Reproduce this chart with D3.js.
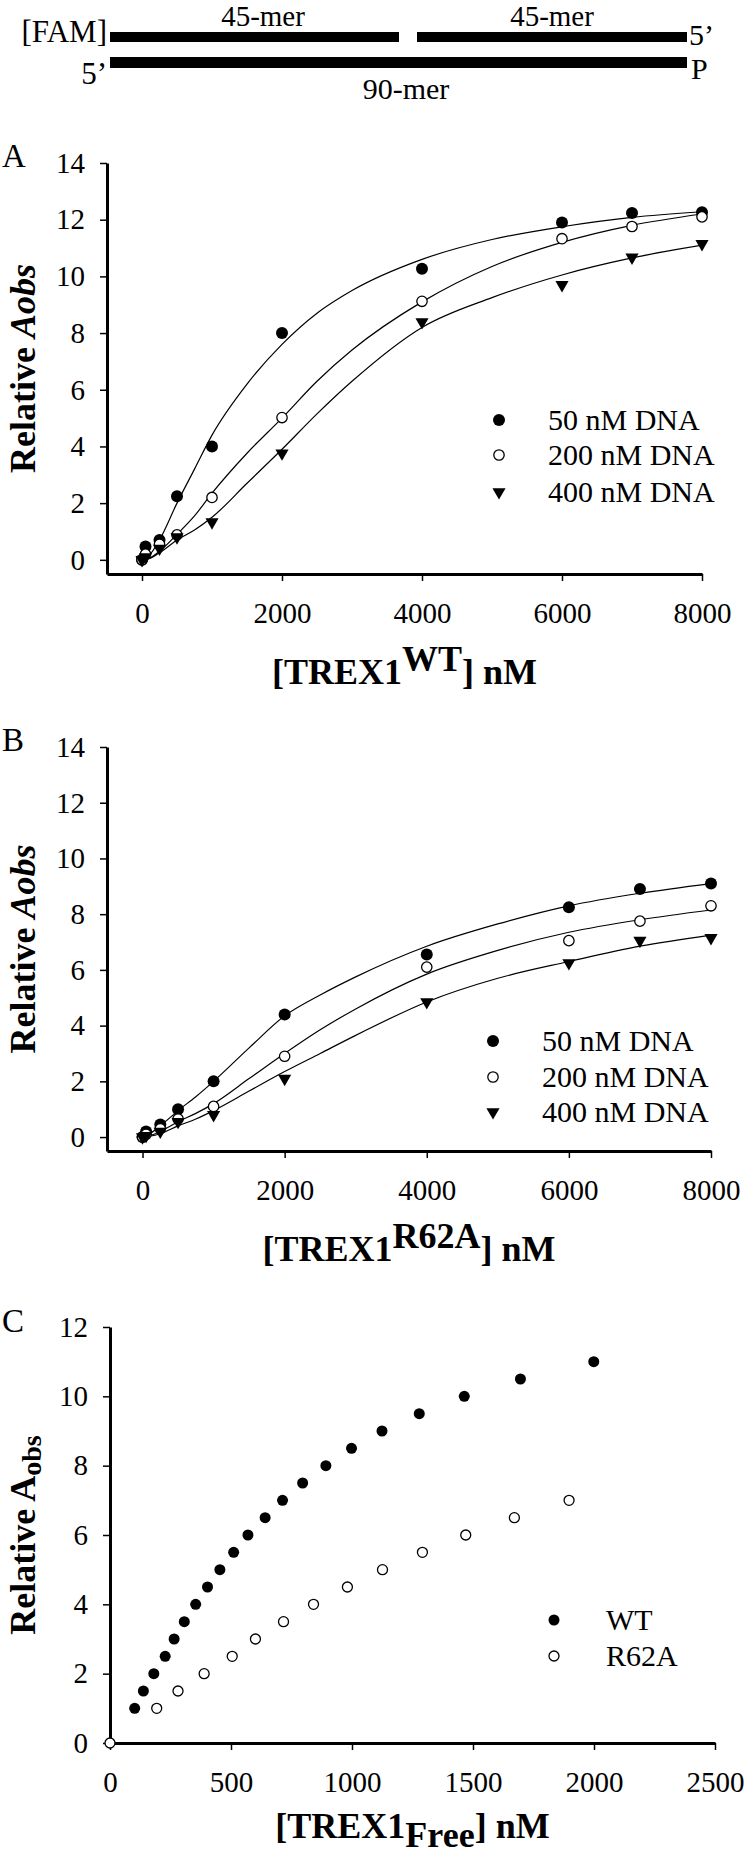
<!DOCTYPE html>
<html>
<head>
<meta charset="utf-8">
<script src="https://cdn.jsdelivr.net/npm/d3@7"></script>
<style>
  body { margin: 0; background: #fff; }
  text { font-family: "Liberation Serif", "Times New Roman", serif; fill: #000; }
</style>
</head>
<body>
<div id="chart"></div>
<script>
// panel A / B concentrations (nM)
var conc = [0, 50, 250, 500, 1000, 2000, 4000, 6000, 7000, 8000];
var a50 = [0, 0.47, 0.7, 2.24, 4.0, 8.0, 10.27, 11.9, 12.24, 12.26];
var a200 = [0, 0.2, 0.55, 0.88, 2.2, 5.02, 9.12, 11.33, 11.76, 12.1];
var a400 = [0, 0.1, 0.4, 0.8, 1.33, 3.76, 8.39, 9.7, 10.67, 11.15];
var b50 = [0, 0.2, 0.45, 1.0, 2.0, 4.4, 6.55, 8.25, 8.9, 9.1];
var b200 = [0, 0.1, 0.3, 0.65, 1.1, 2.9, 6.1, 7.05, 7.75, 8.3];
var b400 = [0, 0.05, 0.2, 0.55, 0.8, 2.1, 4.85, 6.25, 7.05, 7.15];

// fitted lines
var fitConc = [0, 100, 250, 500, 750, 1000, 1500, 2000, 2500, 3000, 4000, 5000, 6000, 7000, 8000];
var fitA50 = [0, 0.15, 0.7, 2.0, 3.2, 4.4, 6.2, 7.6, 8.7, 9.5, 10.6, 11.3, 11.75, 12.08, 12.28];
var fitA200 = [0, 0.05, 0.3, 0.9, 1.55, 2.35, 3.76, 5.0, 6.3, 7.4, 9.1, 10.35, 11.2, 11.8, 12.2];
var fitA400 = [0, 0.04, 0.25, 0.7, 1.05, 1.5, 2.7, 3.9, 5.15, 6.3, 8.2, 9.25, 10.05, 10.65, 11.1];
var fitB50 = [0, 0.12, 0.4, 0.95, 1.45, 2.0, 3.2, 4.35, 5.1, 5.75, 6.85, 7.65, 8.3, 8.75, 9.1];
var fitB200 = [0, 0.05, 0.2, 0.55, 0.85, 1.2, 2.1, 3.0, 3.85, 4.6, 5.85, 6.7, 7.35, 7.8, 8.15];
var fitB400 = [0, 0.03, 0.12, 0.4, 0.65, 0.95, 1.65, 2.35, 3.0, 3.65, 4.85, 5.7, 6.3, 6.85, 7.25];

// panel C
var wtFree = [102, 138, 181, 228, 265, 307, 354, 403, 454, 511, 570, 641, 713, 796, 892, 998, 1124, 1278, 1464, 1696, 1999];
var wtAobs = [1, 1.5, 2, 2.5, 3, 3.5, 4, 4.5, 5, 5.5, 6, 6.5, 7, 7.5, 8, 8.5, 9, 9.5, 10, 10.5, 11];
var r62Free = [0, 193, 281, 389, 505, 601, 717, 841, 981, 1126, 1291, 1470, 1671, 1897];
var r62Aobs = [0, 1, 1.5, 2, 2.5, 3, 3.5, 4, 4.5, 5, 5.5, 6, 6.5, 7];

var seriesNames = ["50 nM DNA", "200 nM DNA", "400 nM DNA"];
var xTicksAB = [0, 2000, 4000, 6000, 8000];
var yTicksAB = [0, 2, 4, 6, 8, 10, 12, 14];
var xTicksC = [0, 500, 1000, 1500, 2000, 2500];
var yTicksC = [0, 2, 4, 6, 8, 10, 12];

var svg = d3.select("#chart").append("svg")
    .attr("width", 744)
    .attr("height", 1854);

// ---- DNA substrate diagram ----
var dna = svg.append("g");
dna.append("rect").attr("x", 110).attr("y", 32).attr("width", 289).attr("height", 10);
dna.append("rect").attr("x", 417).attr("y", 32).attr("width", 270).attr("height", 10);
dna.append("rect").attr("x", 110).attr("y", 57).attr("width", 577).attr("height", 11);
dna.append("text").attr("x", 107).attr("y", 42).attr("text-anchor", "end")
    .attr("font-size", 31).text("[FAM]");
dna.append("text").attr("x", 263).attr("y", 26).attr("text-anchor", "middle")
    .attr("font-size", 29).text("45-mer");
dna.append("text").attr("x", 552).attr("y", 26).attr("text-anchor", "middle")
    .attr("font-size", 29).text("45-mer");
dna.append("text").attr("x", 689).attr("y", 45).attr("font-size", 30).text("5\u2019");
dna.append("text").attr("x", 107).attr("y", 84).attr("text-anchor", "end")
    .attr("font-size", 31).text("5\u2019");
dna.append("text").attr("x", 691).attr("y", 79).attr("font-size", 30).text("P");
dna.append("text").attr("x", 406).attr("y", 99).attr("text-anchor", "middle")
    .attr("font-size", 30).text("90-mer");

function styleAxis(g) {
  g.select(".domain").attr("stroke-width", 3).attr("stroke", "#000");
  g.selectAll(".tick line").attr("stroke-width", 1.5).attr("stroke", "#000");
  g.selectAll(".tick text")
      .attr("font-family", "Liberation Serif, Times New Roman, serif")
      .attr("font-size", 29);
}

function drawMarker(g, kind, x, y) {
  if (kind === 0) {
    g.append("circle").attr("cx", x).attr("cy", y).attr("r", 6).attr("fill", "#000");
  } else if (kind === 1) {
    g.append("circle").attr("cx", x).attr("cy", y).attr("r", 5.2)
        .attr("fill", "#fff").attr("stroke", "#000").attr("stroke-width", 1.3);
  } else {
    g.append("path").attr("d", d3.symbol().type(d3.symbolTriangle).size(75))
        .attr("transform", "translate(" + x + "," + y + ") rotate(180)")
        .attr("fill", "#000");
  }
}

// ---- panels A and B ----
function bindingPanel(opt) {
  var g = svg.append("g");
  var x = d3.scaleLinear().domain([-500, 8000]).range([opt.left, opt.right]);
  var y = d3.scaleLinear().domain([-0.5, 14]).range([opt.bottom, opt.top]);

  g.append("g")
      .attr("transform", "translate(0," + opt.bottom + ")")
      .call(d3.axisBottom(x).tickValues(xTicksAB).tickFormat(d3.format("d"))
          .tickSizeInner(7).tickSizeOuter(0).tickPadding(21))
      .call(styleAxis);
  g.append("g")
      .attr("transform", "translate(" + opt.left + ",0)")
      .call(d3.axisLeft(y).tickValues(yTicksAB).tickSizeInner(7).tickSizeOuter(0).tickPadding(15))
      .call(styleAxis);

  var line = d3.line()
      .x(function(d) { return x(d[0]); })
      .y(function(d) { return y(d[1]); })
      .curve(d3.curveMonotoneX);
  opt.fits.forEach(function(f) {
    g.append("path")
        .datum(fitConc.map(function(c, i) { return [c, f[i]]; }))
        .attr("d", line)
        .attr("fill", "none")
        .attr("stroke", "#000")
        .attr("stroke-width", 1.2);
  });

  opt.series.forEach(function(s, k) {
    conc.forEach(function(c, i) { drawMarker(g, k, x(c), y(s[i])); });
  });

  // legend
  seriesNames.forEach(function(name, k) {
    var ly = opt.legendY[k];
    drawMarker(g, k, opt.legendX, ly);
    g.append("text").attr("x", opt.legendX + 49).attr("y", ly + 10)
        .attr("font-size", 30).text(name);
  });

  g.append("text").attr("x", 2).attr("y", opt.top + 4).attr("font-size", 33).text(opt.letter);

  var yt = g.append("text")
      .attr("transform", "translate(35," + ((opt.top + opt.bottom) / 2) + ") rotate(-90)")
      .attr("text-anchor", "middle")
      .attr("font-size", 36)
      .attr("font-weight", "bold");
  yt.append("tspan").text("Relative ");
  yt.append("tspan").attr("font-style", "italic").text("Aobs");

  var xt = g.append("text")
      .attr("x", (opt.left + opt.right) / 2)
      .attr("y", opt.bottom + 110)
      .attr("text-anchor", "middle")
      .attr("font-size", 36)
      .attr("font-weight", "bold");
  xt.append("tspan").text("[TREX1");
  xt.append("tspan").attr("dy", -13).text(opt.sup);
  xt.append("tspan").attr("dy", 13).text("] nM");
}

bindingPanel({
  letter: "A", left: 107, right: 702, top: 163, bottom: 574,
  series: [a50, a200, a400], fits: [fitA50, fitA200, fitA400],
  legendX: 499, legendY: [420, 455, 492], sup: "WT"
});

bindingPanel({
  letter: "B", left: 107, right: 711, top: 747, bottom: 1151,
  series: [b50, b200, b400], fits: [fitB50, fitB200, fitB400],
  legendX: 493, legendY: [1041, 1077, 1112], sup: "R62A"
});

// ---- panel C ----
(function() {
  var g = svg.append("g");
  var left = 110, right = 715, top = 1327, bottom = 1743;
  var x = d3.scaleLinear().domain([0, 2500]).range([left, right]);
  var y = d3.scaleLinear().domain([0, 12]).range([bottom, top]);

  g.append("g")
      .attr("transform", "translate(0," + bottom + ")")
      .call(d3.axisBottom(x).tickValues(xTicksC).tickFormat(d3.format("d"))
          .tickSizeInner(7).tickSizeOuter(0).tickPadding(21))
      .call(styleAxis);
  g.append("g")
      .attr("transform", "translate(" + left + ",0)")
      .call(d3.axisLeft(y).tickValues(yTicksC).tickSizeInner(7).tickSizeOuter(0).tickPadding(15))
      .call(styleAxis);

  wtFree.forEach(function(v, i) {
    g.append("circle").attr("cx", x(v)).attr("cy", y(wtAobs[i])).attr("r", 5.5).attr("fill", "#000");
  });
  r62Free.forEach(function(v, i) {
    g.append("circle").attr("cx", x(v)).attr("cy", y(r62Aobs[i])).attr("r", 5)
        .attr("fill", "#fff").attr("stroke", "#000").attr("stroke-width", 1.3);
  });

  g.append("circle").attr("cx", 554).attr("cy", 1620).attr("r", 5.5).attr("fill", "#000");
  g.append("text").attr("x", 606).attr("y", 1630).attr("font-size", 30).text("WT");
  g.append("circle").attr("cx", 554).attr("cy", 1656).attr("r", 5)
      .attr("fill", "#fff").attr("stroke", "#000").attr("stroke-width", 1.3);
  g.append("text").attr("x", 606).attr("y", 1666).attr("font-size", 30).text("R62A");

  g.append("text").attr("x", 2).attr("y", 1332).attr("font-size", 33).text("C");

  var yt = g.append("text")
      .attr("transform", "translate(35," + ((top + bottom) / 2) + ") rotate(-90)")
      .attr("text-anchor", "middle")
      .attr("font-size", 36)
      .attr("font-weight", "bold");
  yt.append("tspan").text("Relative A");
  yt.append("tspan").attr("font-size", 28).attr("dy", 6).text("obs");

  var xt = g.append("text")
      .attr("x", (left + right) / 2)
      .attr("y", 1838)
      .attr("text-anchor", "middle")
      .attr("font-size", 36)
      .attr("font-weight", "bold");
  xt.append("tspan").text("[TREX1");
  xt.append("tspan").attr("dy", 9).text("Free");
  xt.append("tspan").attr("dy", -9).text("] nM");
})();
</script>
</body>
</html>
